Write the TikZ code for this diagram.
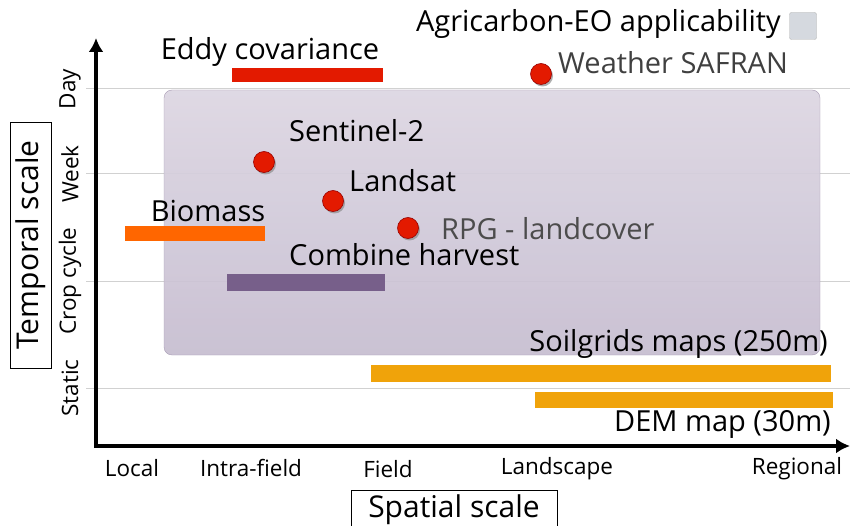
\documentclass[tikz,border=0pt]{standalone}
\usepackage{fontspec}
\setmainfont{Open Sans}
\usepackage{xcolor}
\usetikzlibrary{shadows,arrows.meta}

\definecolor{eddyred}{HTML}{E31A00}
\definecolor{biomorange}{HTML}{FF6600}
\definecolor{harvpurple}{HTML}{775F8A}
\definecolor{soilyellow}{HTML}{F0A30A}
\definecolor{boxtop}{HTML}{DCD6E2}
\definecolor{boxbot}{HTML}{C6BDD0}
\definecolor{boxedge}{HTML}{A89CB4}
\definecolor{legfill}{HTML}{D5D9DF}

\tikzset{
  lbl/.style={font=\fontsize{29}{31}\selectfont, inner sep=0pt},
  titlelbl/.style={font=\fontsize{30}{32}\selectfont, inner sep=0pt, draw},
  ticklbl/.style={font=\fontsize{22.5}{25}\selectfont, inner sep=0pt},
  gridln/.style={draw=black!18, line width=1pt},
  dot/.style={circle, fill=eddyred, draw=red!60!black, line width=0.6pt,
    minimum size=21pt, inner sep=0pt,
    drop shadow={shadow xshift=1.5pt, shadow yshift=-2pt, fill=black!45, opacity=.7}},
}

\begin{document}
\begin{tikzpicture}[x=1pt,y=-1pt]
\useasboundingbox (0,0) rectangle (850,526);

% grid lines for the time scales
\draw[gridln] (86,89) -- (850,89);
\draw[gridln] (86,174) -- (850,174);
\draw[gridln] (86,281) -- (850,281);
\draw[gridln] (86,388) -- (850,388);

% applicability area
\shade[top color=boxtop, bottom color=boxbot, rounded corners=8pt, opacity=.93]
  (164,90) rectangle (820,355);
\draw[boxedge, rounded corners=8pt] (164,90) rectangle (820,355);

% axes
\draw[line width=3.5pt, -{Latex[length=14pt,width=15pt]}] (96,446) -- (96,38);
\draw[line width=3.5pt, -{Latex[length=14pt,width=15pt]}] (94,446) -- (850,446);

% time scale labels
\node[ticklbl, rotate=90] (day) at (70,89) {Day};
\node[ticklbl, rotate=90] (week) at (70,174) {Week};
\node[ticklbl, rotate=90] (crop) at (70,281) {Crop cycle};
\node[ticklbl, rotate=90] (static) at (70,388) {Static};

% space scale labels
\node[ticklbl] (local) at (132,468) {Local};
\node[ticklbl] (intra) at (251,468) {Intra-field};
\node[ticklbl] (field) at (388,469) {Field};
\node[ticklbl] (landsc) at (557,469) {Landscape};
\node[ticklbl] (region) at (797,469) {Regional};

% axis titles
\node[titlelbl, rotate=90, minimum width=246pt, minimum height=41pt] (tscale) at (31,245) {Temporal scale};
\node[titlelbl, minimum width=206pt, minimum height=40pt, anchor=north] (sscale) at (454,490) {Spatial scale};

% data bars
\fill[eddyred] (232,68) rectangle (383,82);
\node[lbl] (eddy) at (270,52) {Eddy covariance};
\fill[biomorange] (125,226) rectangle (265,241);
\node[lbl] (biom) at (208,211) {Biomass};
\fill[harvpurple] (227,274) rectangle (385,291);
\node[lbl, anchor=west] (harv) at (289,255) {Combine harvest};
\fill[soilyellow] (371,365) rectangle (831,382);
\node[lbl, anchor=east] (soil) at (828,344) {Soilgrids maps (250m)};
\fill[soilyellow] (535,392) rectangle (833,408);
\node[lbl, anchor=east] (dem) at (831,424) {DEM map (30m)};

% data points
\node[dot] (s2) at (264,162) {};
\node[lbl, anchor=west] (s2lbl) at (289,131) {Sentinel-2};
\node[dot] (ls) at (333,201) {};
\node[lbl, anchor=west] (lslbl) at (349,181) {Landsat};
\node[dot] (rpg) at (408,228) {};
\node[lbl, anchor=west, text=black!70] (rpglbl) at (441,229) {RPG - landcover};
\node[dot] (safran) at (541,74) {};
\node[lbl, anchor=west, text=black!75] (safranlbl) at (558,63) {Weather SAFRAN};

% legend
\node[lbl, anchor=east] (leg) at (781,24) {Agricarbon-EO applicability};
\node[draw=black!30, fill=legfill, rounded corners=2pt, minimum size=27pt, inner sep=0pt] (legbox) at (803,26) {};

\end{tikzpicture}
\end{document}
